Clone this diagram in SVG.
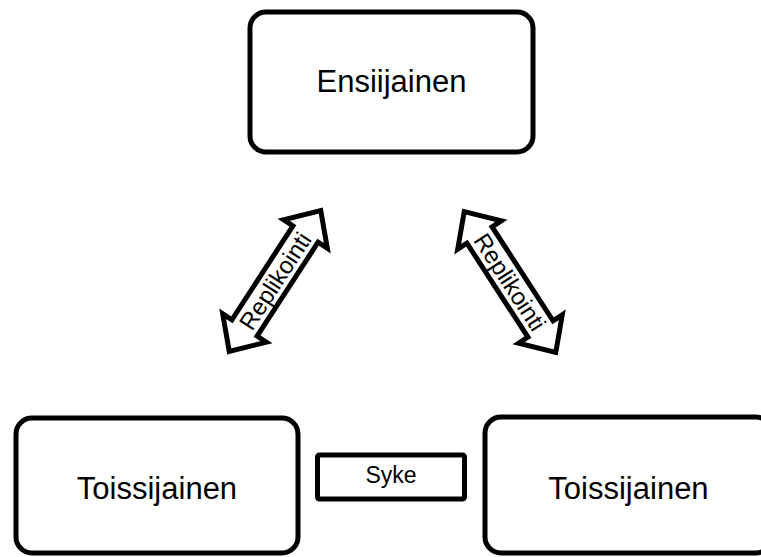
<svg xmlns="http://www.w3.org/2000/svg" width="761" height="557" viewBox="0 0 761 557">
<style>
.box{fill:#fff;stroke:#000;stroke-width:5}
.lbl{font-family:"Liberation Sans",Arial,sans-serif;fill:#000;text-anchor:middle}
.big{font-size:31px}
.arr{fill:#fff;stroke:#000;stroke-width:5;stroke-linejoin:miter}
.al{font-size:24px;dominant-baseline:central}
</style>
<defs>
<path id="dbl" d="M -84,0 L -56,-26 L -56,-15 L 56,-15 L 56,-26 L 84,0 L 56,26 L 56,15 L -56,15 L -56,26 Z"/>
</defs>
<g id="primary">
<rect class="box" x="250" y="12" width="283" height="140" rx="16"/>
<text class="lbl big" x="391.5" y="92">Ensiijainen</text>
</g>
<g id="secondary-left">
<rect class="box" x="16" y="418" width="282" height="135" rx="16"/>
<text class="lbl big" x="157" y="499">Toissijainen</text>
</g>
<g id="secondary-right">
<rect class="box" x="485" y="417" width="287" height="136" rx="16"/>
<text class="lbl big" x="628.5" y="499">Toissijainen</text>
</g>
<g id="heartbeat">
<rect class="box" x="317.5" y="455" width="147" height="44" rx="2"/>
<text class="lbl" style="font-size:23px" x="391" y="483">Syke</text>
</g>
<g id="connectors">
<g transform="translate(275,281) rotate(-57)">
<use href="#dbl" class="arr"/>
<text class="lbl al" x="0" y="0">Replikointi</text>
</g>
<g transform="translate(510,282) rotate(57)">
<use href="#dbl" class="arr"/>
<text class="lbl al" x="0" y="0">Replikointi</text>
</g>
</g>
</svg>
